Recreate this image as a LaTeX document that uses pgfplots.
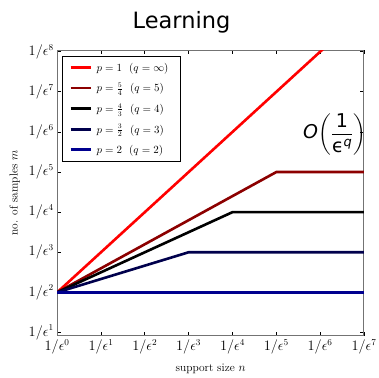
\documentclass[border=0pt]{standalone}
\usepackage{amsmath}
\usepackage{fontspec}
\usepackage{pgfplots}
\pgfplotsset{compat=1.18}
\newfontfamily\dejavu{DejaVu Sans}
\definecolor{cdred}{rgb}{0.55,0,0}
\definecolor{cdnavy}{rgb}{0,0,0.3}
\definecolor{cnavy}{rgb}{0,0,0.56}
\begin{document}
\begin{tikzpicture}
\begin{axis}[
  scale only axis,
  width=306bp, height=284.8bp,
  xmin=0, xmax=7, ymin=0.92, ymax=8.04,
  xtick={0,1,2,3,4,5,6,7},
  ytick={1,2,3,4,5,6,7,8},
  xticklabels={$1/\epsilon^0$,$1/\epsilon^1$,$1/\epsilon^2$,$1/\epsilon^3$,$1/\epsilon^4$,$1/\epsilon^5$,$1/\epsilon^6$,$1/\epsilon^7$},
  yticklabels={$1/\epsilon^1$,$1/\epsilon^2$,$1/\epsilon^3$,$1/\epsilon^4$,$1/\epsilon^5$,$1/\epsilon^6$,$1/\epsilon^7$,$1/\epsilon^8$},
  tick label style={font=\fontsize{13.5}{15}\selectfont},
  label style={font=\fontsize{11.5}{14}\selectfont},
  xlabel={support size $n$},
  ylabel={no. of samples $m$},
  xlabel style={yshift=-3bp},
  ylabel style={yshift=2bp},
  tick align=inside,
  major tick length=4bp,
  axis line style={black!55, line width=1pt},
  tick style={black, line width=0.8pt},
  legend style={at={(0.016,0.979)}, anchor=north west, draw=black, line width=0.6pt,
    font=\fontsize{10.5}{12}\selectfont, inner xsep=7bp, inner ysep=4.5bp, row sep=6.3bp,
    nodes={inner xsep=4.5bp}},
  legend cell align=left,
  legend image code/.code={\draw[#1, line width=2.7bp] (0bp,0bp) -- (20bp,0bp);},
]
\addplot[red, line width=2.6bp] coordinates {(0,2) (7,9)};
\addlegendentry{$p=1\ \ (q=\infty)$}
\addplot[cdred, line width=2.6bp] coordinates {(0,2) (5,5) (7,5)};
\addlegendentry{$p=\frac{5}{4}\ \ (q=5)$}
\addplot[black, line width=2.6bp] coordinates {(0,2) (4,4) (7,4)};
\addlegendentry{$p=\frac{4}{3}\ \ (q=4)$}
\addplot[cdnavy, line width=2.6bp] coordinates {(0,2) (3,3) (7,3)};
\addlegendentry{$p=\frac{3}{2}\ \ (q=3)$}
\addplot[cnavy, line width=2.6bp] coordinates {(0,2) (7,2)};
\addlegendentry{$p=2\ \ (q=2)$}
\coordinate (SW) at (rel axis cs:0,0);
\coordinate (NE) at (rel axis cs:1,1);
\coordinate (ANN) at (rel axis cs:0.904,0.705);
\end{axis}
\node[anchor=base, font=\dejavu\fontsize{22.5}{26}\selectfont] at ([shift={(124bp,22bp)}]SW |- NE) {Learning};
\node[anchor=center, inner sep=0pt] at (ANN) {\fontsize{19}{22}\selectfont\dejavu\itshape O$\left(\genfrac{}{}{1.3pt}{0}{\hbox{\fontsize{19}{22}\selectfont\dejavu\upshape 1}}{\hbox{\fontsize{19}{22}\selectfont\dejavu\upshape ϵ\raisebox{6pt}{\fontsize{13}{15}\selectfont\itshape q}}}\right)$};
\pgfresetboundingbox
\path ([shift={(-57bp,-42bp)}]SW) rectangle ([shift={(15bp,50bp)}]NE);
\end{tikzpicture}
\end{document}
